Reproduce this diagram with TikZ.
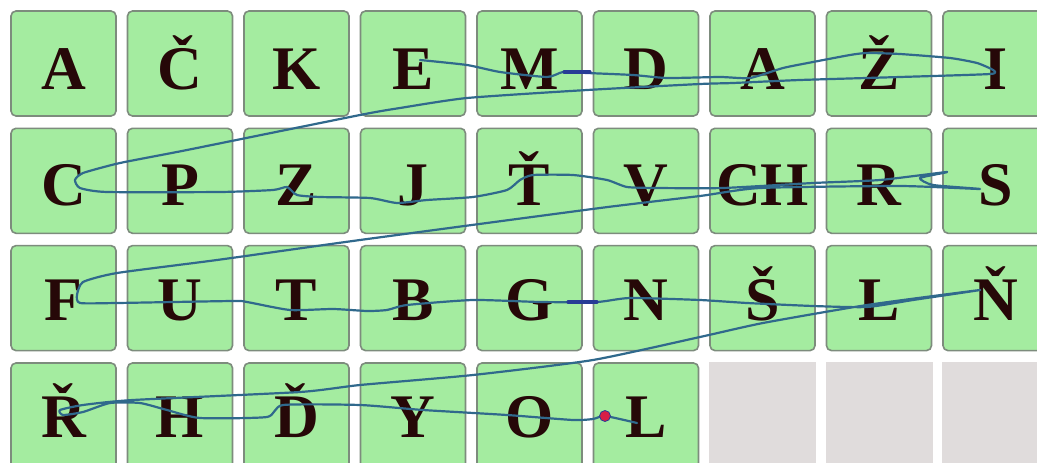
\documentclass[tikz,border=0pt]{standalone}
\usepackage{fontspec}
\setmainfont{Liberation Serif}
\definecolor{cellgreen}{RGB}{164,236,160}
\definecolor{cellborder}{RGB}{125,140,125}
\definecolor{cellgray}{RGB}{224,220,220}
\definecolor{inkletter}{RGB}{38,8,8}
\definecolor{gaze}{RGB}{48,105,140}
\definecolor{gazedark}{RGB}{40,60,150}
\definecolor{dotred}{RGB}{215,30,70}
\tikzset{
  cell/.style={draw=cellborder, line width=1.6pt, fill=cellgreen, rounded corners=5pt,
    minimum width=105pt, minimum height=105pt, inner sep=0pt},
  graycell/.style={fill=cellgray, minimum width=107pt, minimum height=107pt, inner sep=0pt},
  letter/.style={anchor=base, text=inkletter, font=\fontsize{62}{62}\selectfont\bfseries, inner sep=0pt},
  gazeline/.style={draw=gaze, line width=2.2pt, line cap=round, line join=round},
  gazebit/.style={draw=gazedark, line width=3.2pt, line cap=round},
  gazedot/.style={circle, fill=dotred, draw=gazedark, line width=0.8pt, minimum size=11pt, inner sep=0pt},
}
\begin{document}
\begin{tikzpicture}[x=1pt,y=-1pt]
\useasboundingbox (0,0) rectangle (1037,463);
\clip (0,0) rectangle (1037,463);
\fill[white] (0,0) rectangle (1037,463);
% row 1
\foreach \l [count=\i from 0] in {A,Č,K,E,M,D,A,Ž,I} {
  \node[cell] (ca\i) at ({63.5+116.5*\i},63.5) {};
  \node[letter] (ta\i) at ({63.5+116.5*\i},89.5) {\l};
}
% row 2
\foreach \l [count=\i from 0] in {C,P,Z,J,Ť,V,CH,R,S} {
  \node[cell] (cb\i) at ({63.5+116.5*\i},180.8) {};
  \node[letter] (tb\i) at ({63.5+116.5*\i},205.5) {\l};
}
% row 3
\foreach \l [count=\i from 0] in {F,U,T,B,G,N,Š,L,Ň} {
  \node[cell] (cc\i) at ({63.5+116.5*\i},298.1) {};
  \node[letter] (tc\i) at ({63.5+116.5*\i},320.5) {\l};
}
% row 4
\foreach \l [count=\i from 0] in {Ř,H,Ď,Y,O,L} {
  \node[cell] (cd\i) at ({63.5+116.5*\i},415.5) {};
  \node[letter] (td\i) at ({63.5+116.5*\i},437.5) {\l};
}
\foreach \i in {6,7,8} {
  \node[graycell] (gd\i) at ({63.5+116.5*\i},415.5) {};
}
% gaze path
\draw[gazeline] plot[smooth, tension=0.35] coordinates {
 (420,60) (467,65) (500,72) (547,77) (563,72) (587,73) (633,75) (667,78) (720,77)
 (750,78) (783,68) (813,62) (850,55) (867,53) (900,54) (950,58) (977,63) (993,70)
 (990,74) (900,77) (800,80) (733,83) (700,84) (587,90) (467,98) (400,108) (360,115)
 (187,150) (120,163) (83,173) (75,180) (80,188) (107,192) (220,192) (273,190) (287,187)
 (297,195) (320,197) (370,198) (397,203) (427,200) (473,197) (507,190) (520,180)
 (533,175) (573,175) (607,180) (627,187) (657,188) (723,188) (813,183) (880,180)
 (947,172) (920,178) (933,185) (980,189) (900,186) (760,188) (700,196) (600,208)
 (360,240) (217,260) (117,273) (83,282) (77,295) (80,303) (117,303) (233,301)
 (247,302) (290,310) (333,309) (367,311) (387,310) (407,305) (473,300) (540,302)
 (597,302) (630,298) (700,300) (747,303) (813,306) (867,307) (913,300) (980,290)
 (867,305) (763,323) (700,337) (593,360) (473,375) (360,385) (300,392) (133,400)
 (83,405) (60,410) (63,415) (83,412) (110,403) (140,403) (167,410) (200,418)
 (267,417) (283,405) (360,405) (423,410) (507,415) (573,420) (593,419) (605,416)
 (637,423)};
\draw[gazebit] (564,72) -- (590,72);
\draw[gazebit] (568,302) -- (597,302);
\node[gazedot] (dot) at (605,416) {};
\end{tikzpicture}
\end{document}
